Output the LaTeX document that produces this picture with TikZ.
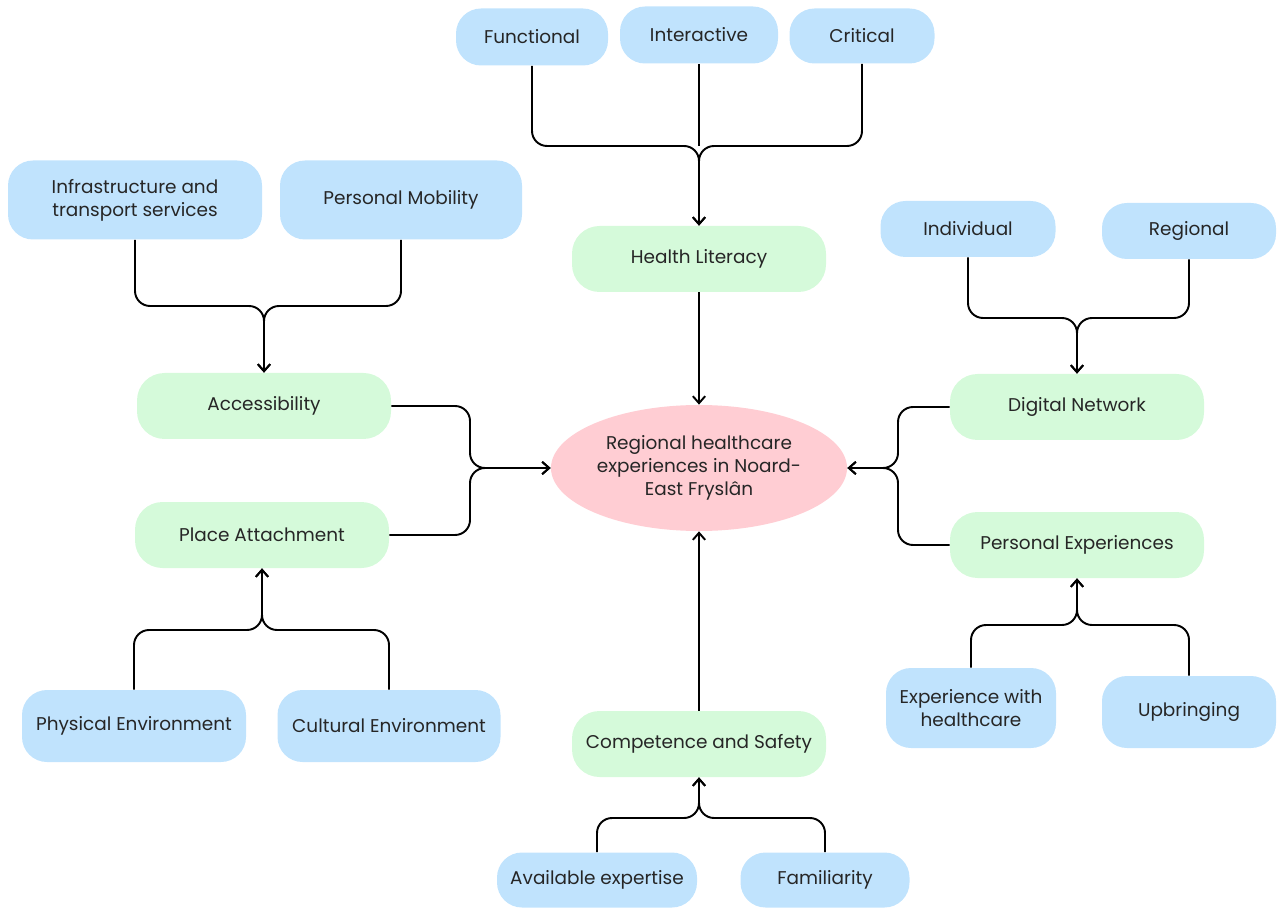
\documentclass[tikz,border=0pt]{standalone}
\usepackage{fontspec}
\setmainfont{Poppins}
\usetikzlibrary{shapes.geometric,arrows.meta}

\definecolor{leafblue}{HTML}{C0E3FD}
\definecolor{factorgreen}{HTML}{D5FADA}
\definecolor{corepink}{HTML}{FFCDD3}

\begin{document}
\begin{tikzpicture}[x=0.02cm,y=-0.02cm,
    every node/.style={font=\fontsize{10.5}{13}\selectfont,text=black!85},
    dim/.style 2 args={minimum width=#1*0.02cm,minimum height=#2*0.02cm},
    leaf/.style={fill=leafblue,rounded corners=0.5cm,inner sep=0pt,align=center},
    factor/.style={fill=factorgreen,rounded corners=0.55cm,inner sep=0pt,dim={254}{66}},
    core/.style={ellipse,fill=corepink,inner sep=0pt,align=center,dim={296}{126}},
    branch/.style={line width=1.1pt,rounded corners=0.3cm},
    link/.style={branch,-{Straight Barb[length=4pt,width=7pt]}}]
    \useasboundingbox (0,0) rectangle (1277,908);

    % centre
    \node[core] (core) at (699,468) {Regional healthcare\\experiences in Noard-\\East Fryslân};

    % green factors
    \node[factor] (hl) at (699,259) {Health Literacy};
    \node[factor] (acc) at (264,406) {Accessibility};
    \node[factor] (pla) at (262,535) {Place Attachment};
    \node[factor] (dig) at (1077,407) {Digital Network};
    \node[factor] (pex) at (1077,545) {Personal Experiences};
    \node[factor] (com) at (699,744) {Competence and Safety};

    % blue leaves
    \node[leaf,dim={152}{57}] (fun) at (532,37) {Functional};
    \node[leaf,dim={158}{57}] (int) at (699,35) {Interactive};
    \node[leaf,dim={145}{55}] (cri) at (862,36) {Critical};
    \node[leaf,dim={254}{79}] (inf) at (135,200) {Infrastructure and\\transport services};
    \node[leaf,dim={242}{79}] (mob) at (401,200) {Personal Mobility};
    \node[leaf,dim={224}{72}] (phy) at (134,726) {Physical Environment};
    \node[leaf,dim={223}{72}] (cul) at (389,726) {Cultural Environment};
    \node[leaf,dim={175}{56}] (ind) at (968,229) {Individual};
    \node[leaf,dim={174}{56}] (reg) at (1189,231) {Regional};
    \node[leaf,dim={170}{80}] (exh) at (971,708) {Experience with\\healthcare};
    \node[leaf,dim={174}{72}] (upb) at (1189,712) {Upbringing};
    \node[leaf,dim={200}{55}] (ava) at (597,880) {Available expertise};
    \node[leaf,dim={169}{55}] (fam) at (825,880) {Familiarity};

    % merge points
    \coordinate (hlj) at (699,146);
    \coordinate (acj) at (264,306);
    \coordinate (paj) at (262,630);
    \coordinate (dnj) at (1077,318);
    \coordinate (pej) at (1077,625);
    \coordinate (csj) at (699,818);
    \coordinate (lj) at (470,468);
    \coordinate (rj) at (898,468);

    \draw[link] (fun.south) |- (hlj) -- (hl.north);
    \draw[link] (cri.south) |- (hlj) -- (hl.north);
    \draw[branch] (int.south) -- (hlj);

    \draw[link] (inf.south) |- (acj) -- (acc.north);
    \draw[link] (mob.south) |- (acj) -- (acc.north);

    \draw[link] (phy.north) |- (paj) -- (pla.south);
    \draw[link] (cul.north) |- (paj) -- (pla.south);

    \draw[link] (ind.south) |- (dnj) -- (dig.north);
    \draw[link] (reg.south) |- (dnj) -- (dig.north);

    \draw[link] (exh.north) |- (pej) -- (pex.south);
    \draw[link] (upb.north) |- (pej) -- (pex.south);

    \draw[link] (ava.north) |- (csj) -- (com.south);
    \draw[link] (fam.north) |- (csj) -- (com.south);

    \draw[link] (acc.east) -| (lj) -- (core.west);
    \draw[link] (pla.east) -| (lj) -- (core.west);
    \draw[link] (dig.west) -| (rj) -- (core.east);
    \draw[link] (pex.west) -| (rj) -- (core.east);

    \draw[link] (hl.south) -- (core.north);
    \draw[link] (com.north) -- (core.south);
\end{tikzpicture}
\end{document}
